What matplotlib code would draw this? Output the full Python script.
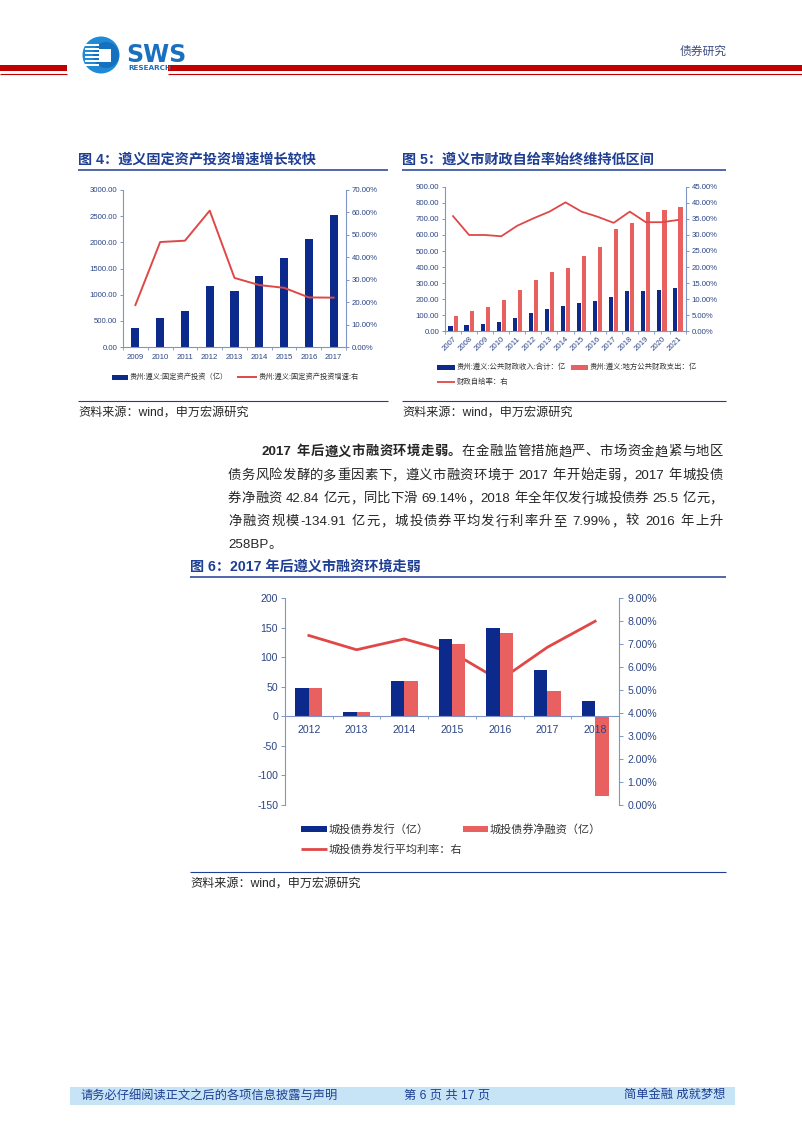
import matplotlib
matplotlib.use("Agg")
import matplotlib.pyplot as plt
import numpy as np
from matplotlib.patches import Rectangle, Circle
from matplotlib.ticker import FormatStrFormatter

plt.rcParams["font.family"] = ["Liberation Sans", "Noto Sans CJK SC", "DejaVu Sans"]
plt.rcParams["axes.unicode_minus"] = False

# ---- data ----
YEARS_4 = ["2009", "2010", "2011", "2012", "2013", "2014", "2015", "2016", "2017"]
INVEST_4 = [369, 548, 688, 1171, 1070, 1357, 1694, 2064, 2522]
GROWTH_4 = [18.7, 46.8, 47.4, 60.8, 30.8, 27.6, 26.4, 22.1, 22.0]

YEARS_5 = ["2007", "2008", "2009", "2010", "2011", "2012", "2013", "2014",
           "2015", "2016", "2017", "2018", "2019", "2020", "2021"]
REVENUE_5 = [31, 38, 46, 57, 82, 111, 135, 158, 177, 185, 214, 250, 252, 259, 267]
SPENDING_5 = [92, 128, 153, 193, 254, 320, 366, 393, 471, 524, 635, 673, 742, 755, 774]
SELF_RATE_5 = [35.9, 30.0, 30.0, 29.6, 32.9, 35.2, 37.3, 40.2, 37.3, 35.7,
               33.8, 37.3, 34.0, 34.0, 34.7]

YEARS_6 = ["2012", "2013", "2014", "2015", "2016", "2017", "2018"]
ISSUE_6 = [48, 7.5, 60, 131, 150, 77.5, 25.5]
NET_6 = [48, 7.5, 60, 122, 140, 42.84, -134.91]
RATE_6 = [7.37, 6.75, 7.22, 6.64, 5.42, 6.86, 7.99]

LEGEND_4 = ["贵州:遵义:固定资产投资（亿）", "贵州:遵义:固定资产投资增速:右"]
LEGEND_5 = ["贵州:遵义:公共财政收入:合计：亿", "贵州:遵义:地方公共财政支出：亿", "财政自给率：右"]
LEGEND_6 = ["城投债券发行（亿）", "城投债券净融资（亿）", "城投债券发行平均利率：右"]

NAVY = "#0c2a8c"
RED_BAR = "#e8605f"
RED_LINE = "#e04848"
SPINE = "#7f95c4"
TICK_TXT = "#2b4585"
TITLE = "#1f3f94"
TEXT = "#262626"

W, H = 802, 1133
fig = plt.figure(figsize=(W / 100, H / 100), dpi=100)

# background axes in pixel coordinates
bg = fig.add_axes([0, 0, 1, 1])
bg.set_xlim(0, W)
bg.set_ylim(H, 0)
bg.axis("off")


def rect(x0, y0, x1, y1):
    return [x0 / W, 1 - y1 / H, (x1 - x0) / W, (y1 - y0) / H]


def hline(x0, x1, y, color, lw):
    bg.plot([x0, x1], [y, y], color=color, lw=lw, solid_capstyle="butt")


def box(x0, y0, x1, y1, color):
    bg.add_patch(Rectangle((x0, y0), x1 - x0, y1 - y0, color=color, lw=0))


# ---- header ----
box(0, 65, 67, 70.5, "#c00000")
hline(0, 67, 74, "#c00000", 0.8)
box(168, 65, W, 70.5, "#c00000")
hline(168, W, 74, "#c00000", 0.8)

bg.add_patch(Circle((101, 55), 18.5, color="#1f8ad6", lw=0))
bg.add_patch(Circle((106, 55), 13, color="#1570c0", lw=0))
for yy in [44, 48, 52, 56, 60, 64]:
    box(85, yy, 99, yy + 1.8, "white")
box(99, 49, 111, 62, "white")
bg.text(126, 62, "SWS", fontsize=17, fontweight="bold", color="#1a6fc0",
        family="DejaVu Sans", va="baseline")
bg.text(128, 68.5, "RESEARCH", fontsize=5.2, fontweight="bold", color="#1a6fc0",
        family="DejaVu Sans", va="center")
bg.text(727, 52, "债券研究", fontsize=8.5, color="#3d4d80", ha="right", va="center")

# ---- footer ----
box(70, 1087, 735, 1105, "#c7e4f7")
bg.text(80, 1096, "请务必仔细阅读正文之后的各项信息披露与声明", fontsize=8.8,
        color=TITLE, va="center")
bg.text(447, 1096, "第 6 页 共 17 页", fontsize=8.8, color=TITLE, va="center", ha="center")
bg.text(725, 1096, "简单金融 成就梦想", fontsize=8.8, color=TITLE, va="center", ha="right")


# ---- titles & sources ----
def fig_title(x0, x1, y, s):
    bg.text(x0, y, s, fontsize=10.2, fontweight="bold", color=TITLE, va="center")
    hline(x0, x1, y + 10, TITLE, 1.1)


def source(x0, x1, y):
    hline(x0, x1, y - 12, TITLE, 0.8)
    bg.text(x0, y, "资料来源：wind，申万宏源研究", fontsize=8.7, color=TEXT, va="center")


fig_title(78, 388, 160, "图 4：遵义固定资产投资增速增长较快")
fig_title(402, 726, 160, "图 5：遵义市财政自给率始终维持低区间")
fig_title(190, 726, 567, "图 6：2017 年后遵义市融资环境走弱")
source(78, 388, 413)
source(402, 726, 413)
source(190, 726, 884)

# ---- body paragraph ----
renderer = fig.canvas.get_renderer()


def justify(parts, x0, x1, y, size, last=False):
    tokens = []
    for s, w in parts:
        buf = ""
        for ch in s:
            if ch.isascii() and ch != " ":
                buf += ch
            else:
                if buf:
                    tokens.append((buf, w))
                    buf = ""
                tokens.append((ch, w))
        if buf:
            tokens.append((buf, w))
    widths = []
    for s, w in tokens:
        if s == " ":
            widths.append(size * 100 / 72 * 0.3)
        else:
            t = bg.text(0, 0, s, fontsize=size, fontweight=w)
            widths.append(t.get_window_extent(renderer).width)
            t.remove()
    gap = 0 if last else (x1 - x0 - sum(widths)) / (len(tokens) - 1)
    x = x0
    for (s, w), wd in zip(tokens, widths):
        if s != " ":
            bg.text(x, y, s, fontsize=size, fontweight=w, color=TEXT,
                    va="center", ha="left")
        x += wd + gap


BODY = 9.6
justify([("2017 年后遵义市融资环境走弱。", "bold"),
         ("在金融监管措施趋严、市场资金趋紧与地区", "normal")], 262, 723, 452, BODY)
justify([("债务风险发酵的多重因素下，遵义市融资环境于 2017 年开始走弱，2017 年城投债",
          "normal")], 228, 723, 476, BODY)
justify([("券净融资 42.84 亿元，同比下滑 69.14%，2018 年全年仅发行城投债券 25.5 亿元，",
          "normal")], 228, 723, 499, BODY)
justify([("净融资规模-134.91 亿元，城投债券平均发行利率升至 7.99%，较 2016 年上升",
          "normal")], 228, 723, 522, BODY)
justify([("258BP。", "normal")], 228, 723, 545, BODY, last=True)


def style_axes(ax, size):
    for side in ["top", "right", "bottom", "left"]:
        ax.spines[side].set_color(SPINE)
        ax.spines[side].set_linewidth(0.8)
    ax.spines["top"].set_visible(False)
    ax.tick_params(colors=SPINE, labelcolor=TICK_TXT, labelsize=size, width=0.7)


def legend_patch(x, y, w, h, color, label, size):
    box(x, y - h / 2, x + w, y + h / 2, color)
    bg.text(x + w + 1.5, y, label, fontsize=size, color="#333333", va="center")


def legend_line(x, y, w, lw, color, label, size):
    hline(x, x + w, y, color, lw)
    bg.text(x + w + 1.5, y, label, fontsize=size, color="#333333", va="center")


# ---- chart 4 ----
x4 = np.arange(len(YEARS_4))
ax4 = fig.add_axes(rect(123, 190, 346, 347))
ax4.bar(x4, INVEST_4, width=0.33, color=NAVY)
ax4.set_xlim(-0.5, len(YEARS_4) - 0.5)
ax4.set_ylim(0, 3000)
ax4.set_yticks(np.arange(0, 3001, 500))
ax4.yaxis.set_major_formatter(FormatStrFormatter("%.2f"))
ax4.set_xticks(x4, YEARS_4)
ax4.set_xticks(np.arange(-0.5, len(YEARS_4)), minor=True)
style_axes(ax4, 5.6)
ax4.spines["right"].set_visible(False)
ax4.tick_params(axis="x", which="major", length=0, pad=5)
ax4.tick_params(axis="x", which="minor", length=2, color=SPINE)
ax4.tick_params(axis="y", length=2.2, pad=2)
ax4r = ax4.twinx()
ax4r.plot(x4, GROWTH_4, color=RED_LINE, lw=1.4)
ax4r.set_ylim(0, 70)
ax4r.set_yticks(np.arange(0, 71, 10))
ax4r.yaxis.set_major_formatter(FormatStrFormatter("%.2f%%"))
style_axes(ax4r, 5.6)
ax4r.spines["left"].set_visible(False)
ax4r.spines["bottom"].set_visible(False)
ax4r.tick_params(axis="y", length=2.2, pad=2)
legend_patch(112, 377, 16, 5, NAVY, LEGEND_4[0], 5.2)
legend_line(237, 377, 20, 1.4, RED_LINE, LEGEND_4[1], 5.2)

# ---- chart 5 ----
x5 = np.arange(len(YEARS_5))
ax5 = fig.add_axes(rect(445, 187, 686, 331))
ax5.bar(x5 - 0.16, REVENUE_5, width=0.26, color=NAVY)
ax5.bar(x5 + 0.16, SPENDING_5, width=0.26, color=RED_BAR)
ax5.set_xlim(-0.5, len(YEARS_5) - 0.5)
ax5.set_ylim(0, 900)
ax5.set_yticks(np.arange(0, 901, 100))
ax5.yaxis.set_major_formatter(FormatStrFormatter("%.2f"))
ax5.set_xticks(x5, YEARS_5, rotation=45, ha="right", va="top", rotation_mode="anchor")
ax5.set_xticks(np.arange(-0.5, len(YEARS_5)), minor=True)
style_axes(ax5, 5.6)
ax5.spines["right"].set_visible(False)
ax5.tick_params(axis="x", which="major", length=0, pad=3)
ax5.tick_params(axis="x", which="minor", length=2, color=SPINE)
ax5.tick_params(axis="y", length=2.2, pad=2)
ax5r = ax5.twinx()
ax5r.plot(x5, SELF_RATE_5, color=RED_LINE, lw=1.3)
ax5r.set_ylim(0, 45)
ax5r.set_yticks(np.arange(0, 46, 5))
ax5r.yaxis.set_major_formatter(FormatStrFormatter("%.2f%%"))
style_axes(ax5r, 5.6)
ax5r.spines["left"].set_visible(False)
ax5r.spines["bottom"].set_visible(False)
ax5r.tick_params(axis="y", length=2.2, pad=2)
legend_patch(437, 367, 18, 5, NAVY, LEGEND_5[0], 5.3)
legend_patch(571, 367, 17, 5, RED_BAR, LEGEND_5[1], 5.3)
legend_line(437, 382, 18, 1.3, RED_LINE, LEGEND_5[2], 5.3)

# ---- chart 6 ----
x6 = np.arange(len(YEARS_6))
ax6 = fig.add_axes(rect(285, 598, 619, 805))
ax6.bar(x6 - 0.14, ISSUE_6, width=0.28, color=NAVY)
ax6.bar(x6 + 0.14, NET_6, width=0.28, color=RED_BAR)
ax6.set_xlim(-0.5, len(YEARS_6) - 0.5)
ax6.set_ylim(-150, 200)
ax6.set_yticks(np.arange(-150, 201, 50))
ax6.set_xticks(x6, YEARS_6)
ax6.set_xticks(np.arange(-0.5, len(YEARS_6)), minor=True)
style_axes(ax6, 7.6)
ax6.spines["right"].set_visible(False)
ax6.spines["bottom"].set_position(("data", 0))
ax6.tick_params(axis="x", which="major", length=0, pad=6)
ax6.tick_params(axis="x", which="minor", length=2.5, color=SPINE)
ax6.tick_params(axis="y", length=3, pad=2)
ax6r = ax6.twinx()
ax6r.plot(x6, RATE_6, color=RED_LINE, lw=2.0)
ax6r.set_ylim(0, 9)
ax6r.set_yticks(np.arange(0, 9.5, 1))
ax6r.yaxis.set_major_formatter(FormatStrFormatter("%.2f%%"))
style_axes(ax6r, 7.6)
ax6r.spines["left"].set_visible(False)
ax6r.spines["bottom"].set_visible(False)
ax6r.tick_params(axis="y", length=3, pad=3)
ax6.set_zorder(ax6r.get_zorder() + 1)
ax6.patch.set_visible(False)
legend_patch(301, 829, 26, 5.5, NAVY, LEGEND_6[0], 8)
legend_patch(463, 829, 25, 5.5, RED_BAR, LEGEND_6[1], 8)
legend_line(301, 849, 26, 2.0, RED_LINE, LEGEND_6[2], 8)

fig.savefig("out.png", dpi=100)
